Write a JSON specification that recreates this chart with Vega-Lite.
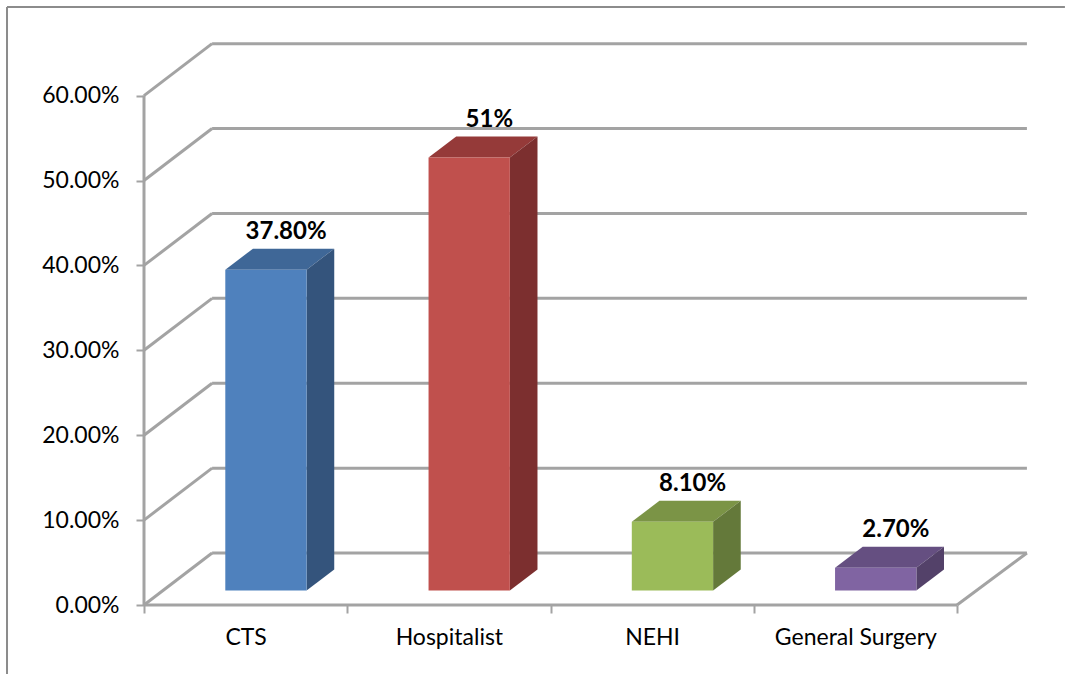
{
"$schema":"https://vega.github.io/schema/vega-lite/v6.json",
"width":883,"height":562,
"autosize":{"type":"none"},
"padding":{"left":144,"top":43,"right":38,"bottom":69},
"background":"white",
"config":{"view":{"stroke":null},"font":"Lato"},
"datasets":{
"bars":[
{"category":"CTS","i":0,"value":0.378,"label":"37.80%"},
{"category":"Hospitalist","i":1,"value":0.51,"label":"51%"},
{"category":"NEHI","i":2,"value":0.081,"label":"8.10%"},
{"category":"General Surgery","i":3,"value":0.027,"label":"2.70%"}],
"levels":[{"level":0},{"level":0.1},{"level":0.2},{"level":0.3},{"level":0.4},{"level":0.5},{"level":0.6}],
"frame":[{"xa":-0.674,"xb":4.531,"ya":0.7044,"yb":0.7044},{"xa":-0.674,"xb":-0.674,"ya":0.7044,"yb":-0.0813}],
"floor":[{"xa":0,"xb":0,"ya":0,"yb":0.6},{"xa":0,"xb":4,"ya":0,"yb":0},{"xa":4,"xb":4.344,"ya":0,"yb":0.0612}]
},
"resolve":{"scale":{"color":"independent"}},
"layer":[
{"data":{"name":"levels"},
"transform":[{"calculate":"0.335","as":"xa"},{"calculate":"4.344","as":"xb"},{"calculate":"datum.level+0.0612","as":"ya"}],
"mark":{"type":"rule","color":"#a3a3a3","strokeWidth":3,"clip":false},
"encoding":{
"x":{"field":"xa","type":"quantitative","title":null,"scale":{"domain":[0,4.3444],"nice":false,"zero":false},
"axis":{"values":[0,0.5,1,1.5,2,2.5,3,3.5,4],"domain":false,"grid":false,"title":null,"tickSize":8,"tickWidth":2,"tickColor":"#a3a3a3",
"tickOpacity":{"condition":{"test":"datum.value%1==0","value":1},"value":0},
"labelExpr":"datum.value%1==0?'':['CTS','Hospitalist','NEHI','General Surgery'][floor(datum.value)]",
"labelFontSize":23,"labelFont":"Lato","labelColor":"#000000","labelPadding":13,"labelOverlap":false,"labelBound":false,"labelFlush":false}},
"x2":{"field":"xb"},
"y":{"field":"ya","type":"quantitative","title":null,"scale":{"domain":[0,0.66196],"nice":false,"zero":false},
"axis":{"values":[0,0.1,0.2,0.3,0.4,0.5,0.6],"format":".2%","domain":false,"grid":false,"title":null,"tickSize":8,"tickWidth":2,"tickColor":"#a3a3a3","labelFontSize":23,"labelFont":"Lato","labelColor":"#000000","labelPadding":17,"labelOverlap":false,"labelBound":false}}}},
{"data":{"name":"levels"},
"transform":[{"calculate":"0","as":"xa"},{"calculate":"0.335","as":"xb"},{"calculate":"datum.level+0.0612","as":"yb"}],
"mark":{"type":"rule","color":"#a3a3a3","strokeWidth":3,"clip":false},
"encoding":{"x":{"field":"xa","type":"quantitative","title":null},"x2":{"field":"xb"},"y":{"field":"level","type":"quantitative","title":null},"y2":{"field":"yb"}}},
{"data":{"name":"floor"},
"mark":{"type":"rule","color":"#a3a3a3","strokeWidth":3,"clip":false},
"encoding":{"x":{"field":"xa","type":"quantitative","title":null},"x2":{"field":"xb"},"y":{"field":"ya","type":"quantitative","title":null},"y2":{"field":"yb"}}},
{"data":{"name":"frame"},
"mark":{"type":"rule","color":"#8c8c8c","strokeWidth":2,"clip":false},
"encoding":{"x":{"field":"xa","type":"quantitative","title":null},"x2":{"field":"xb"},"y":{"field":"ya","type":"quantitative","title":null},"y2":{"field":"yb"}}},
{"data":{"name":"bars"},
"transform":[{"calculate":"[0,1]","as":"t"},{"flatten":["t"]},
{"calculate":"datum.i+0.4+datum.t*0.136","as":"xl"},{"calculate":"datum.i+0.8+datum.t*0.136","as":"xr"},{"calculate":"0.017+datum.value+datum.t*0.0247","as":"yt"}],
"mark":{"type":"area","orient":"horizontal","clip":false},
"encoding":{"y":{"field":"yt","type":"quantitative","title":null},"x":{"field":"xl","type":"quantitative","title":null,"stack":null},"x2":{"field":"xr"},
"color":{"field":"category","type":"nominal","legend":null,"scale":{"domain":["CTS","Hospitalist","NEHI","General Surgery"],"range":["#3f6797","#953a39","#7b9446","#654f81"]}}}},
{"data":{"name":"bars"},
"transform":[{"calculate":"[0,1]","as":"t"},{"flatten":["t"]},
{"calculate":"datum.i+0.8+datum.t*0.136","as":"xs"},{"calculate":"0.017+datum.t*0.0247","as":"yb"},{"calculate":"0.017+datum.value+datum.t*0.0247","as":"yt"}],
"mark":{"type":"area","clip":false},
"encoding":{"x":{"field":"xs","type":"quantitative","title":null},"y":{"field":"yb","type":"quantitative","title":null,"stack":null},"y2":{"field":"yt"},
"color":{"field":"category","type":"nominal","legend":null,"scale":{"domain":["CTS","Hospitalist","NEHI","General Surgery"],"range":["#34547c","#7c2f2f","#64793a","#534169"]}}}},
{"data":{"name":"bars"},
"transform":[{"calculate":"datum.i+0.4","as":"xl"},{"calculate":"datum.i+0.8","as":"xr"},{"calculate":"0.017","as":"yb"},{"calculate":"0.017+datum.value","as":"yt"}],
"mark":{"type":"rect","clip":false},
"encoding":{"x":{"field":"xl","type":"quantitative","title":null},"x2":{"field":"xr"},"y":{"field":"yb","type":"quantitative","title":null},"y2":{"field":"yt"},
"color":{"field":"category","type":"nominal","legend":null,"scale":{"domain":["CTS","Hospitalist","NEHI","General Surgery"],"range":["#4f81bd","#c0504d","#9bbb59","#8064a2"]}}}},
{"data":{"name":"bars"},
"transform":[{"calculate":"datum.i+0.699","as":"xc"},{"calculate":"0.017+datum.value+0.0247+0.011","as":"yl"}],
"mark":{"type":"text","font":"Lato","fontWeight":"bold","fontSize":24,"color":"#000000","align":"center","baseline":"alphabetic","clip":false},
"encoding":{"x":{"field":"xc","type":"quantitative","title":null},"y":{"field":"yl","type":"quantitative","title":null},"text":{"field":"label"}}}
]}
